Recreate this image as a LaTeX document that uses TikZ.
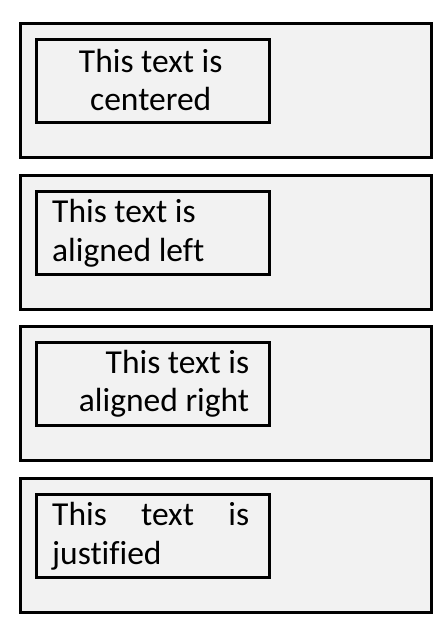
\documentclass[tikz,border=0pt]{standalone}
\usepackage{fontspec}
\setmainfont[Ligatures=NoCommon]{Carlito}
\begin{document}
\begin{tikzpicture}[x=1pt,y=1pt,
  outerbox/.style={draw=black, fill=boxgray, line width=3.4pt, minimum width=411pt, minimum height=134pt, inner sep=0pt, anchor=north west},
  innerbox/.style={draw=black, fill=boxgray, line width=3.2pt, minimum width=233pt, minimum height=83pt, inner sep=0pt, anchor=north west},
  txt/.style={inner sep=0pt, anchor=base west, text=black}]
\definecolor{boxgray}{HTML}{F2F2F2}
\useasboundingbox (0,0) rectangle (447,-630);
\fill[white] (0,0) rectangle (447,-630);
\newcommand{\lbl}[1]{\parbox[t]{197pt}{\fontsize{33.5}{38.5}\selectfont #1}}
% box 1
\node[outerbox] (o1) at (19,-22) {};
\node[innerbox] (i1) at (35,-38) {};
\node[txt] (t1) at ([xshift=17pt,yshift=-34pt]i1.north west) {\lbl{\centering This text is\\centered}};
% box 2
\node[outerbox] (o2) at (19,-173.5) {};
\node[innerbox] (i2) at (35,-189.5) {};
\node[txt] (t2) at ([xshift=17pt,yshift=-33pt]i2.north west) {\lbl{\raggedright This text is\\aligned left}};
% box 3
\node[outerbox] (o3) at (19,-325) {};
\node[innerbox] (i3) at (35,-341) {};
\node[txt] (t3) at ([xshift=17pt,yshift=-32pt]i3.north west) {\lbl{\raggedleft This text is\\aligned right}};
% box 4
\node[outerbox] (o4) at (19,-476.5) {};
\node[innerbox] (i4) at (35,-492.5) {};
\node[txt] (t4) at ([xshift=17pt,yshift=-33pt]i4.north west) {\lbl{\makebox[\linewidth][s]{This text is}\\justified}};
\end{tikzpicture}
\end{document}
